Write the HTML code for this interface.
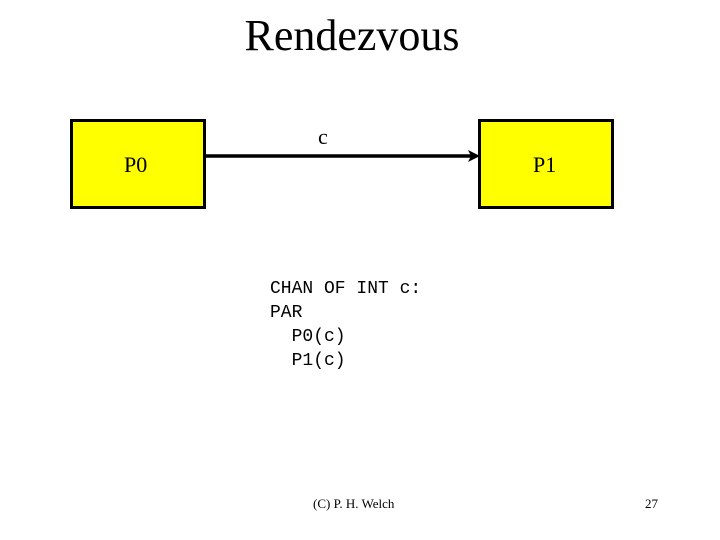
<!DOCTYPE html>
<html><head><style>
body{margin:0;width:720px;height:540px;background:#fff;position:relative;overflow:hidden;font-family:"Liberation Serif",serif}
.t{position:absolute;white-space:pre;color:#000}
.box{position:absolute;background:#ffff00;border:3px solid #000;box-sizing:border-box}
</style></head><body>
<div class="t" style="left:0;width:704px;text-align:center;top:10px;font-size:44px;">Rendezvous</div>
<div class="box" style="left:70px;top:119px;width:136px;height:90px"></div>
<div class="box" style="left:478px;top:119px;width:136px;height:90px"></div>
<div class="t" style="left:124px;top:152px;font-size:22px">P0</div>
<div class="t" style="left:533px;top:152px;font-size:22px">P1</div>
<div class="t" style="left:318px;top:124px;font-size:22px">c</div>
<svg style="position:absolute;left:0;top:0" width="720" height="540">
<line x1="205" y1="156" x2="472" y2="156" stroke="#000" stroke-width="3.5"/>
<polygon points="480,156 468,150 471,156 468,162" fill="#000"/>
</svg>
<div class="t" style="left:270px;top:277px;font-family:'Liberation Mono',monospace;font-size:18px;line-height:24px">CHAN OF INT c:
PAR
  P0(c)
  P1(c)</div>
<div class="t" style="left:313px;top:496px;font-size:13px">(C) P. H. Welch</div>
<div class="t" style="left:645px;top:496px;font-size:13px">27</div>
</body></html>
